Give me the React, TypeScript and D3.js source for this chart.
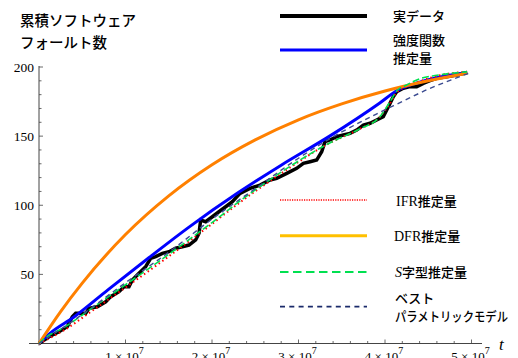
import React from "react";
import * as d3 from "d3";

// t in units of 1e7
const dataT = [0, 0.116, 0.231, 0.328, 0.385, 0.424, 0.54, 0.578, 0.674, 0.771, 0.829, 0.925, 0.983, 1.04, 1.079, 1.156, 1.233, 1.291, 1.349, 1.426, 1.503, 1.58, 1.657, 1.734, 1.811, 1.85, 1.869, 1.927, 2.004, 2.08, 2.158, 2.235, 2.324, 2.439, 2.555, 2.671, 2.748, 2.864, 2.979, 3.056, 3.133, 3.21, 3.268, 3.306, 3.364, 3.441, 3.518, 3.595, 3.673, 3.75, 3.827, 3.904, 3.98, 4.02, 4.058, 4.096, 4.135, 4.212, 4.289, 4.366, 4.443, 4.52, 4.598, 4.713, 4.829, 4.95];
const dataV = [0, 4.9, 8.5, 12.2, 19.4, 21.8, 21.8, 25.5, 26.6, 30.2, 33.9, 37.5, 41.1, 41.1, 45.9, 50.8, 55.6, 61.6, 62.8, 65.2, 66.4, 68.9, 70.0, 71.2, 74.9, 79.7, 89.3, 88.1, 91.7, 95.3, 98.9, 102.6, 108.6, 112.2, 114.6, 118.3, 119.5, 123.1, 126.7, 130.3, 131.5, 132.7, 138.7, 146.0, 147.2, 149.6, 150.8, 152.0, 154.4, 158.0, 159.3, 161.7, 164.1, 168.9, 173.7, 178.5, 182.1, 184.6, 185.8, 185.8, 188.2, 190.1, 191.8, 193.0, 194.2, 196.0];

const intensityT = [0, 0.13, 0.4, 0.8, 1.27, 1.73, 2.3, 2.8, 3.36, 3.94, 4.14, 4.4, 4.95];
const intensityV = [0, 7.5, 19, 39, 62, 84, 109, 129, 150, 174, 183, 189, 196];

const ifrT = [0, 0.3, 0.6, 1.0, 1.5, 2.0, 2.3, 2.8, 3.36, 3.7, 3.94, 4.05, 4.14, 4.3, 4.6, 4.95];
const ifrV = [0, 10, 23, 40.5, 63, 86.5, 101, 123, 145, 155, 164, 173, 182, 187, 193.5, 196.5];

const dfrT = [0, 0.25, 0.5, 1.0, 1.5, 2.0, 2.5, 3.0, 3.5, 4.0, 4.5, 4.95];
const dfrV = [0, 23.1, 43.7, 78.8, 106.8, 129.3, 147.3, 161.8, 173.3, 182.6, 190.0, 195.5];

const sShapeT = [0, 0.05, 0.3, 0.6, 1.0, 1.5, 2.0, 2.3, 2.8, 3.36, 3.7, 3.94, 4.05, 4.14, 4.25, 4.4, 4.6, 4.95];
const sShapeV = [0, 3, 12, 25, 42.5, 64.5, 87.5, 102, 124, 145, 155, 164, 174, 183, 187, 191.5, 194, 196.5];

const bestT = [0, 0.5, 1.0, 1.5, 2.0, 2.5, 3.0, 3.5, 3.9, 4.2, 4.5, 4.8, 4.97];
const bestV = [0, 21, 44, 66, 90, 112, 134, 153, 166, 175, 184, 191.5, 195.5];

const yTicks = [50, 100, 150, 200];
const xTicks = [1, 2, 3, 4, 5];

const titleLines = ["累積ソフトウェア", "フォールト数"];

const x = d3.scaleLinear().domain([0, 5]).range([39, 471.5]);
const y = d3.scaleLinear().domain([0, 200]).range([343.5, 67]);

function path(ts: number[], vs: number[], curve: any = d3.curveLinear) {
  const pts: [number, number][] = ts.map((t, i) => [t, vs[i]]);
  return d3
    .line<[number, number]>()
    .x((d) => x(d[0]))
    .y((d) => y(d[1]))
    .curve(curve)(pts) as string;
}

const serif = "Liberation Serif, Times New Roman, DejaVu Serif, serif";
const jp = "Noto Sans CJK JP, Noto Sans, sans-serif";

export default function App() {
  const minorX = d3.range(1, 26).map((i) => i * 0.2);
  const minorY = d3.range(1, 21).map((i) => i * 10);
  const axisColor = "#444";
  const lx1 = 280;
  const lx2 = 367;
  return (
    <svg width={518} height={358} style={{ position: "absolute", left: 0, top: 0, background: "#fff" }}>
      <rect width={518} height={358} fill="#fff" />
      {/* axes */}
      <line x1={29} x2={482} y1={y(0)} y2={y(0)} stroke={axisColor} strokeWidth={1} />
      <line x1={x(0)} x2={x(0)} y1={y(0) + 2} y2={y(200) - 1} stroke={axisColor} strokeWidth={1} />
      {minorX.map((t) => {
        const major = Math.abs(t - Math.round(t)) < 1e-6;
        return (
          <line key={"mx" + t} x1={x(t)} x2={x(t)} y1={y(0)} y2={y(0) - (major ? 4 : 2.5)} stroke={axisColor} strokeWidth={0.8} />
        );
      })}
      {minorY.map((v) => {
        const major = v % 50 === 0;
        return (
          <line key={"my" + v} x1={x(0)} x2={x(0) + (major ? 4 : 2.5)} y1={y(v)} y2={y(v)} stroke={axisColor} strokeWidth={0.8} />
        );
      })}
      {yTicks.map((v) => (
        <text key={"yl" + v} x={34} y={y(v) + 4.5} textAnchor="end" fontFamily={serif} fontSize={13.5} fill="#000">
          {v}
        </text>
      ))}
      {xTicks.map((t) => (
        <text key={"xl" + t} x={x(t) - 1} y={361} textAnchor="middle" fontFamily={serif} fontSize={13} fill="#000">
          {t + " × 10"}
          <tspan fontSize={10} dy={-7.5}>7</tspan>
        </text>
      ))}
      <text x={499} y={350} fontFamily={serif} fontStyle="italic" fontSize={17} fill="#000">
        t
      </text>

      {/* curves */}
      <path d={path(dataT, dataV)} fill="none" stroke="#000" strokeWidth={3.5} strokeLinejoin="miter" />
      <path d={path(intensityT, intensityV, d3.curveMonotoneX)} fill="none" stroke="#0000ff" strokeWidth={3} />
      <path d={path(ifrT, ifrV, d3.curveMonotoneX)} fill="none" stroke="#ff0000" strokeWidth={2} strokeDasharray="1.5,3" />
      <path d={path(dfrT, dfrV, d3.curveMonotoneX)} fill="none" stroke="#ff8000" strokeWidth={3} />
      <path d={path(sShapeT, sShapeV, d3.curveMonotoneX)} fill="none" stroke="#00e050" strokeWidth={1.6} strokeDasharray="7,3" />
      <path d={path(bestT, bestV, d3.curveMonotoneX)} fill="none" stroke="#3a4a90" strokeWidth={1.4} strokeDasharray="5,4" />

      {/* title */}
      {titleLines.map((s, i) => (
        <text key={s} x={20} y={26 + i * 22} fontFamily={jp} fontWeight={500} fontSize={14.5} fill="#000">
          {s}
        </text>
      ))}

      {/* legend */}
      <line x1={lx1} x2={lx2} y1={16} y2={16} stroke="#000" strokeWidth={4} />
      <text x={393} y={21} fontFamily={jp} fontWeight={500} fontSize={13} fill="#000">実データ</text>

      <line x1={lx1} x2={lx2} y1={50} y2={50} stroke="#0000ff" strokeWidth={3} />
      <text x={393} y={44.5} fontFamily={jp} fontWeight={500} fontSize={13} fill="#000">強度関数</text>
      <text x={393} y={63} fontFamily={jp} fontWeight={500} fontSize={13} fill="#000">推定量</text>

      <line x1={lx1} x2={lx2} y1={200} y2={200} stroke="#ff0000" strokeWidth={1.6} strokeDasharray="1.2,1.2" />
      <text x={396} y={206} fontSize={13} fill="#000">
        <tspan fontFamily={serif} fontSize={14}>IFR</tspan>
        <tspan fontFamily={jp} fontWeight={500}>推定量</tspan>
      </text>

      <line x1={lx1} x2={lx2} y1={235.7} y2={235.7} stroke="#ffc000" strokeWidth={3} />
      <text x={394} y={241} fontSize={13} fill="#000">
        <tspan fontFamily={serif} fontSize={14}>DFR</tspan>
        <tspan fontFamily={jp} fontWeight={500}>推定量</tspan>
      </text>

      <line x1={lx1} x2={lx2} y1={272} y2={272} stroke="#00e050" strokeWidth={1.8} strokeDasharray="8.5,4.5" />
      <text x={395} y={277} fontSize={13} fill="#000">
        <tspan fontFamily={serif} fontStyle="italic" fontSize={14}>S</tspan>
        <tspan fontFamily={jp} fontWeight={500}>字型推定量</tspan>
      </text>

      <line x1={lx1} x2={lx2} y1={306.7} y2={306.7} stroke="#1a2a6a" strokeWidth={1.8} strokeDasharray="5,4.3" />
      <text x={395} y={303} fontFamily={jp} fontWeight={500} fontSize={13} fill="#000">ベスト</text>
      <text x={395} y={321} fontFamily={jp} fontWeight={500} fontSize={13} fill="#000" textLength={113} lengthAdjust="spacingAndGlyphs">
        パラメトリックモデル
      </text>
    </svg>
  );
}
